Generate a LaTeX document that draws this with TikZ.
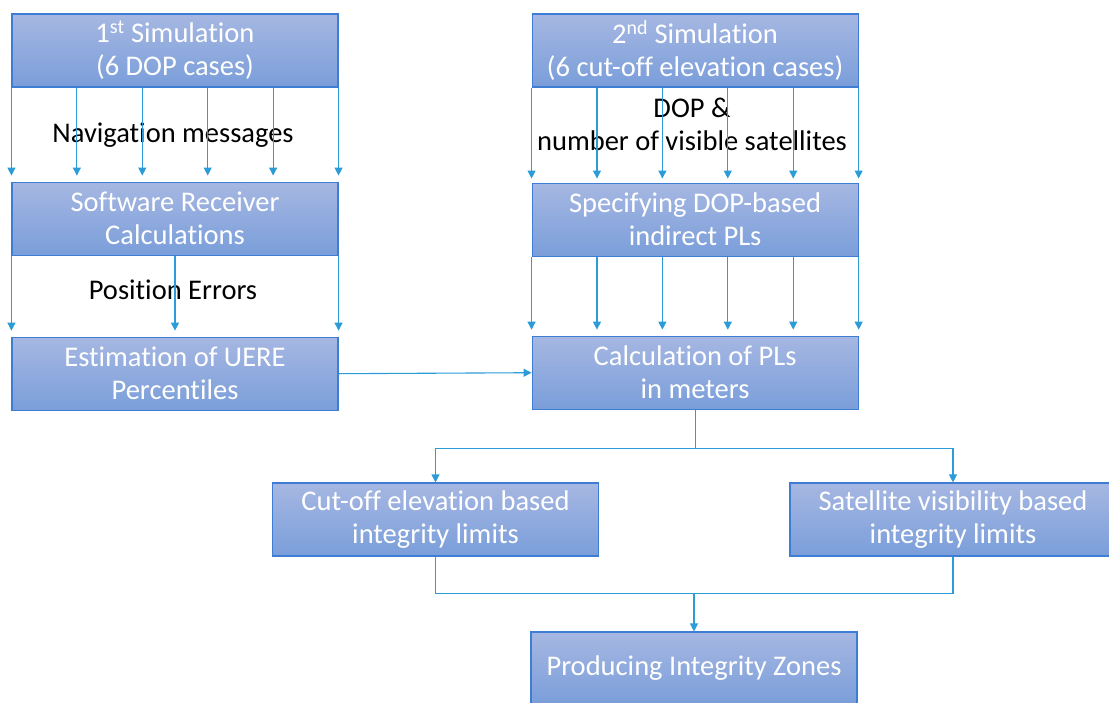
\documentclass[tikz,border=0pt]{standalone}
\usepackage{fontspec}
\setmainfont[Ligatures=NoCommon]{Carlito}
\usetikzlibrary{positioning,calc,arrows.meta}
\definecolor{boxtop}{RGB}{166,183,226}
\definecolor{boxbot}{RGB}{122,158,218}
\definecolor{boxedge}{RGB}{62,125,212}
\definecolor{linkblue}{RGB}{43,156,216}

\begin{document}
\begin{tikzpicture}[x=1pt, y=-1pt,
                node distance=94pt and 193pt,
                every node/.style={font=\fontsize{28.5}{33}\selectfont, align=center, inner sep=0pt},
                proc/.style={rectangle, draw=boxedge, line width=1.1pt, top color=boxtop, bottom color=boxbot, text=white, minimum width=326pt, minimum height=73pt},
                lbl/.style={text=black},
                link/.style={draw=linkblue, line width=1.1pt},
                arrow/.style={link, -{Triangle[width=8pt,length=8pt]}}
            ]
                \clip (0,0) rectangle (1109,702);

                % Define Nodes
                \node (sim1) [proc] at (175,50.5) {1\textsuperscript{st} Simulation\\ (6 DOP cases)};
                \node (sw) [proc, below=94pt of sim1] {Software Receiver\\ Calculations};
                \node (uere) [proc, below=81pt of sw] {Estimation of UERE\\ Percentiles};

                \node (sim2) [proc, right=193pt of sim1] {2\textsuperscript{nd} Simulation\\ (6 cut-off elevation cases)};
                \node (spec) [proc, below=95pt of sim2] {Specifying DOP-based\\ indirect PLs};
                \node (calc) [proc, below=79pt of spec] {Calculation of PLs\\ in meters};

                \node (cutoff) [proc] at (435.5,519.5) {Cut-off elevation based\\ integrity limits};
                \node (sat) [proc] at (953,519.5) {Satellite visibility based\\ integrity limits};
                \node (prod) [proc] at (694,668.5) {Producing Integrity Zones};

                % Labels on the arrow bundles
                \node (navlbl) [lbl] at (173,135) {Navigation messages};
                \node (poslbl) [lbl] at (173,290) {Position Errors};
                \node (doplbl) [lbl] at (692,124.5) {DOP \&\\ number of visible satellites};

                % Draw Arrows
                \foreach \i in {0,...,5} {
                    \draw[arrow, shorten >=6pt] ($(sim1.south west)!{\i/5}!(sim1.south east)$) -- ($(sw.north west)!{\i/5}!(sw.north east)$);
                    \draw[arrow, shorten >=4pt] ($(sim2.south west)!{\i/5}!(sim2.south east)$) -- ($(spec.north west)!{\i/5}!(spec.north east)$);
                    \draw[arrow, shorten >=6pt] ($(spec.south west)!{\i/5}!(spec.south east)$) -- ($(calc.north west)!{\i/5}!(calc.north east)$);
                }
                \foreach \i in {0,...,2}
                    \draw[arrow, shorten >=6pt] ($(sw.south west)!{\i/2}!(sw.south east)$) -- ($(uere.north west)!{\i/2}!(uere.north east)$);

                \draw[arrow] (uere.east) -- (calc.west);

                % Split to the two kinds of limits
                \draw[link] (calc.south) -- ++(0,39) coordinate (split);
                \draw[arrow] (split) -| (cutoff.north);
                \draw[arrow] (split) -| (sat.north);

                % Join into the zones
                \coordinate (join) at ($(prod.north)+(0,-38)$);
                \draw[link] (cutoff.south) |- (join) -| (sat.south);
                \draw[arrow] (join) -- (prod.north);

            \end{tikzpicture}
\end{document}
